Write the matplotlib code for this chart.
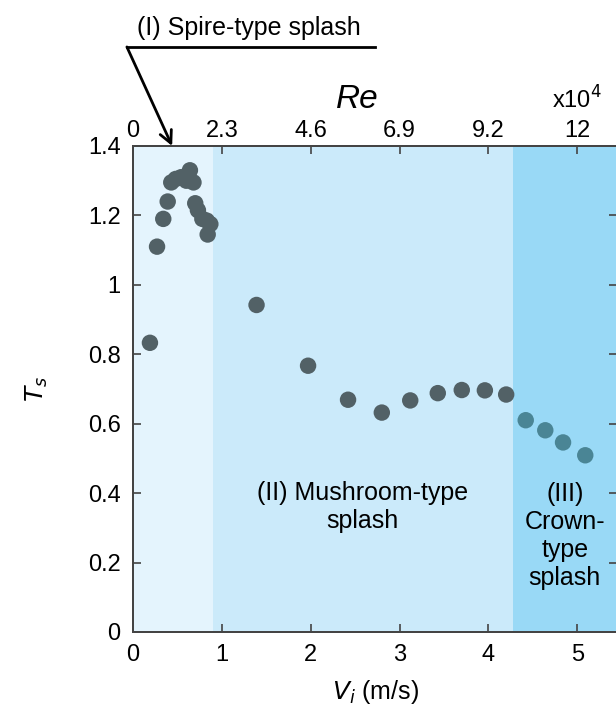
import matplotlib
matplotlib.use('Agg')
import matplotlib.pyplot as plt
from matplotlib.lines import Line2D

plt.rcParams['font.family'] = ['Liberation Sans', 'DejaVu Sans']

# impact velocity (m/s) and splash time Ts
velocity = [0.19, 0.27, 0.34, 0.39, 0.43, 0.48, 0.54, 0.60, 0.64, 0.68,
            0.70, 0.73, 0.78, 0.83, 0.87, 0.84,
            1.39, 1.97, 2.42, 2.80, 3.12, 3.43, 3.70, 3.96, 4.20,
            4.42, 4.64, 4.84, 5.09]
ts = [0.833, 1.11, 1.19, 1.24, 1.295, 1.305, 1.31, 1.30, 1.33, 1.295,
      1.235, 1.215, 1.19, 1.185, 1.175, 1.145,
      0.942, 0.767, 0.669, 0.632, 0.667, 0.688, 0.697, 0.696, 0.684,
      0.610, 0.581, 0.546, 0.509]

# regime boundaries in V (m/s)
regimes = [(0.0, 0.9), (0.9, 4.28), (4.28, 5.45)]
regime_colors = ['#e4f4fd', '#cbeafa', '#99d9f6']

v_ticks = [0, 1, 2, 3, 4, 5]
re_labels = ['0', '2.3', '4.6', '6.9', '9.2', '12']
y_ticks = [0, 0.2, 0.4, 0.6, 0.8, 1, 1.2, 1.4]
y_labels = ['0', '0.2', '0.4', '0.6', '0.8', '1', '1.2', '1.4']

fig = plt.figure(figsize=(6.16, 7.22), dpi=100)
ax = fig.add_axes([0.216, 0.1247, 0.786, 0.6731])

for (lo, hi), c in zip(regimes, regime_colors):
    ax.axvspan(lo, hi, color=c, lw=0, zorder=0)

pt_colors = ['#4a8595' if v > regimes[2][0] else '#526166' for v in velocity]
ax.scatter(velocity, ts, s=140, c=pt_colors, edgecolors='none', zorder=3)

ax.set_xlim(0, 5.45)
ax.set_ylim(0, 1.4)
ax.set_xticks(v_ticks)
ax.set_yticks(y_ticks)
ax.set_yticklabels(y_labels)
ax.tick_params(direction='in', labelsize=17, length=6, width=1.2,
               color='#444444', right=True)
ax.tick_params(axis='x', pad=9)
ax.tick_params(axis='y', pad=9)
for sp in ax.spines.values():
    sp.set_color('#444444')
    sp.set_linewidth(1.4)

ax.set_xlabel('$V_i$ (m/s)', fontsize=18, labelpad=8)
ax.set_ylabel('$T_s$', fontsize=18, labelpad=27)

# Reynolds number axis on top
ax2 = ax.twiny()
ax2.set_xlim(ax.get_xlim())
ax2.set_xticks(v_ticks)
ax2.set_xticklabels(re_labels)
ax2.tick_params(direction='in', labelsize=17, length=6, width=1.2,
                color='#444444', pad=3)
for sp in ax2.spines.values():
    sp.set_color('#444444')
    sp.set_linewidth(1.4)

fig.text(0.58, 0.862, 'Re', fontsize=24, style='italic', ha='center', va='center')
fig.text(0.937, 0.862, 'x10$^{4}$', fontsize=17, ha='center', va='center')

ax.text(2.58, 0.36, '(II) Mushroom-type\nsplash', fontsize=18,
        ha='center', va='center', linespacing=1.2)
ax.text(4.86, 0.277, '(III)\nCrown-\ntype\nsplash', fontsize=18,
        ha='center', va='center', linespacing=1.2)

# spire-type annotation above the axes
fig.text(0.222, 0.961, '(I) Spire-type splash', fontsize=18, ha='left', va='center')
fig.add_artist(Line2D([0.206, 0.609], [0.935, 0.935], color='black', lw=2,
                      transform=fig.transFigure))
ax.annotate('', xy=(0.44, 1.4), xycoords='data',
            xytext=(0.206, 0.935), textcoords='figure fraction',
            arrowprops=dict(arrowstyle='->', lw=2, color='black',
                            mutation_scale=22, shrinkA=0, shrinkB=0),
            annotation_clip=False)

fig.savefig('out.png', dpi=100)
